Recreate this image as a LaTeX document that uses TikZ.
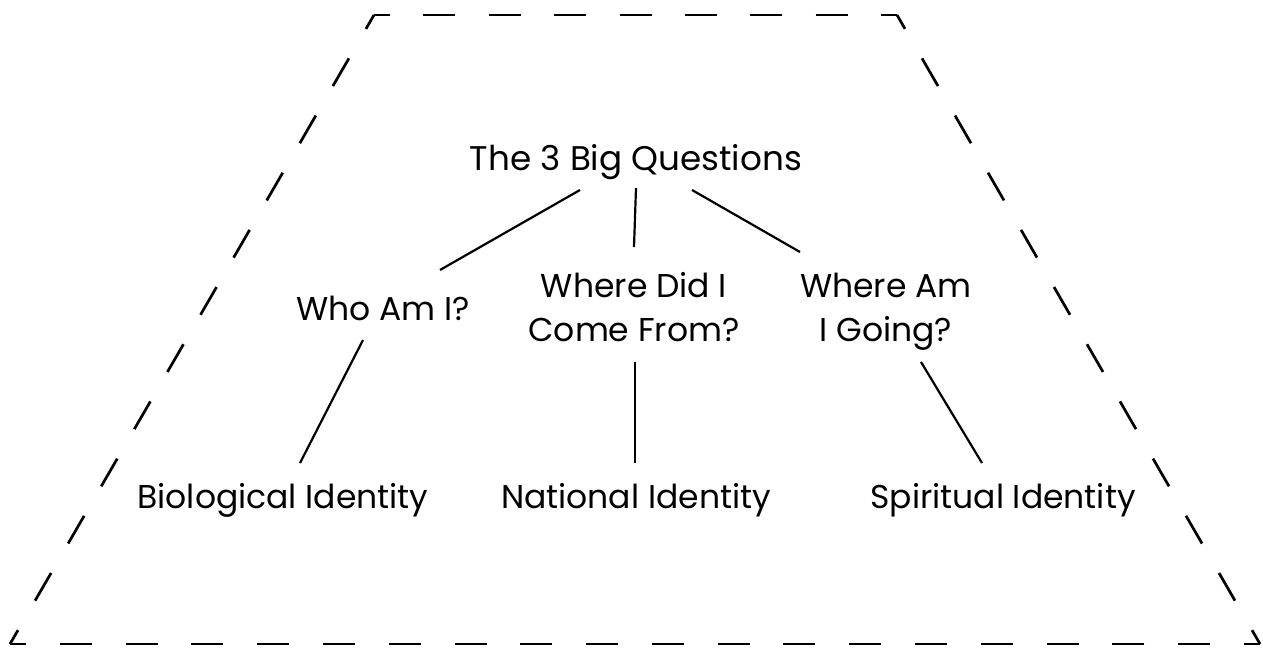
\documentclass[tikz,border=0pt]{standalone}
\usepackage{fontspec}
\usetikzlibrary{calc}
\newfontfamily\labelfont{Poppins}[Ligatures=NoCommon]
\begin{document}
\begin{tikzpicture}[x=1pt,y=-1pt,
  frame/.style={line width=2.7pt,dash pattern=on 32pt off #1,dash phase=16pt},
  lbl/.style={inner sep=0pt,font=\labelfont\fontsize{33}{44}\selectfont,align=center,anchor=base},
  ttl/.style={lbl,font=\labelfont\fontsize{34.2}{44}\selectfont},
  link/.style={line width=2.2pt}]
\useasboundingbox (0,0) rectangle (1263,648);
% dashed trapezoid, each edge dashed on its own so every corner sits mid-dash
\coordinate (tl) at (374,15);
\coordinate (tr) at (897,15);
\coordinate (br) at (1260,644);
\coordinate (bl) at (10,644);
\draw[frame=34.06pt] (bl) -- (tl);
\draw[frame=33.38pt] (tl) -- (tr);
\draw[frame=34.02pt] (tr) -- (br);
\draw[frame=33.79pt] (br) -- (bl);
% labels (multi-line nodes are anchored on their last baseline)
\node[ttl] (top) at (636,170) {The 3 Big Questions};
\node[lbl] (who) at (383,320) {Who Am I?};
\node[lbl] (from) at (634,341) {Where Did I\\Come From?};
\node[lbl] (going) at (886,341) {Where Am\\I Going?};
\node[lbl] (bio) at (283,508) {Biological Identity};
\node[lbl] (nat) at (636,508) {National Identity};
\node[lbl] (spir) at (1003,508) {Spiritual Identity};
% connectors
\draw[link] ($(top.base)+(-56,20)$) -- ($(who.base)+(57,-50)$);
\draw[link] ($(top.base)+(0,18)$) -- ($(from.base)+(0,-94)$);
\draw[link] ($(top.base)+(56,20)$) -- ($(going.base)+(-86,-89)$);
\draw[link] ($(who.base)+(-20,20)$) -- ($(bio.base)+(17,-45)$);
\draw[link] ($(from.base)+(1,21)$) -- ($(nat.base)+(-1,-45)$);
\draw[link] ($(going.base)+(35,21)$) -- ($(spir.base)+(-21,-45)$);
\end{tikzpicture}
\end{document}
